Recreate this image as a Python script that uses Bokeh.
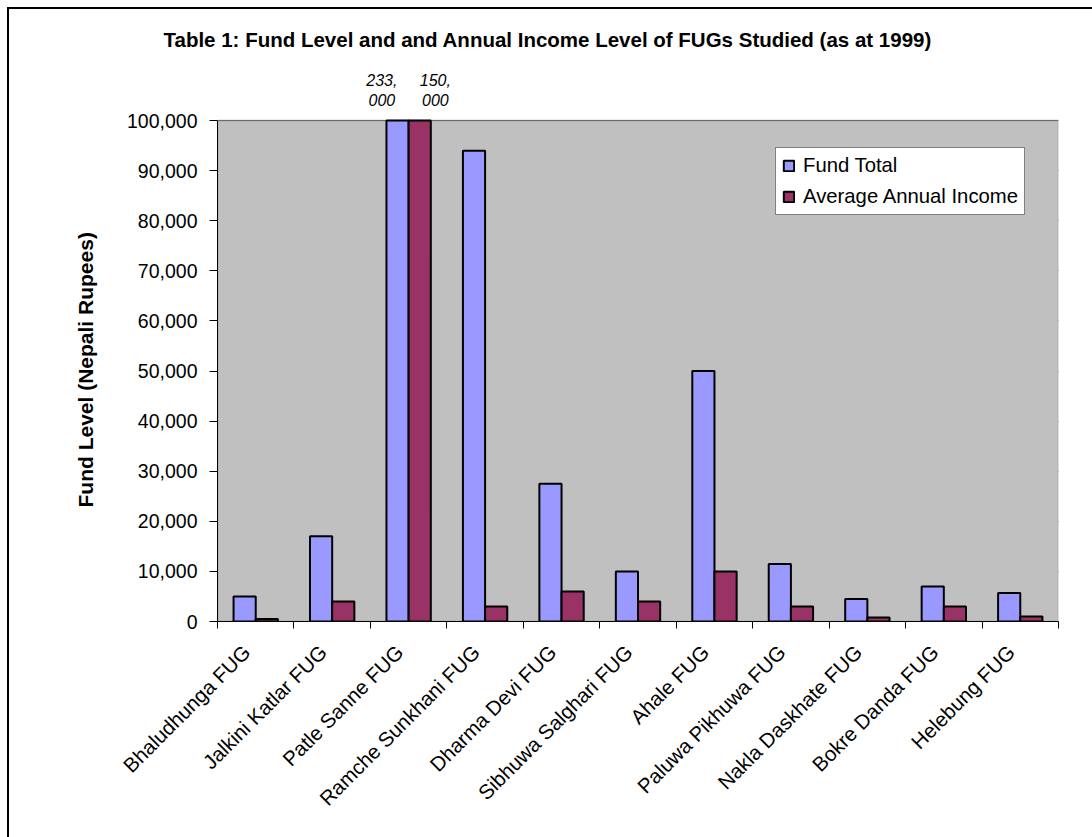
import numpy as np
from bokeh.plotting import figure
from bokeh.models import (Range1d, FixedTicker, NumeralTickFormatter, Legend, LegendItem,
                          BoxAnnotation, ColumnDataSource, Title)
from bokeh.core.properties import value
from bokeh.embed import file_html
from bokeh.resources import INLINE
from math import pi

categories = ["Bhaludhunga FUG", "Jalkini Katlar FUG", "Patle Sanne FUG", "Ramche Sunkhani FUG",
              "Dharma Devi FUG", "Sibhuwa Salghari FUG", "Ahale FUG", "Paluwa Pikhuwa FUG",
              "Nakla Daskhate FUG", "Bokre Danda FUG", "Helebung FUG"]
fund_total = [5000, 17000, 233000, 94000, 27500, 10000, 50000, 11500, 4500, 7000, 5700]
avg_income = [500, 4000, 150000, 3000, 6000, 4000, 10000, 3000, 800, 3000, 1000]
y_ticks = list(range(0, 100001, 10000))
axis_max = 100000
# off-scale bars carry their values as two-line labels above the plot
offscale_labels = [("233,", "000"), ("150,", "000")]

FONT = "Liberation Sans"
idx = np.arange(len(categories))
centers = idx + 0.5
bw = 0.29

# chart area deliberately extends past the window's right and bottom edges
p = figure(width=1100, height=845, output_backend="svg", toolbar_location=None,
           x_range=Range1d(0, len(categories)), y_range=Range1d(0, 112000),
           min_border_left=208, min_border_right=51, min_border_top=51, min_border_bottom=233)
p.margin = (9, 0, 0, 9)
p.styles = {"box-shadow": "-2px -2px 0px 0px black"}
p.background_fill_color = "white"
p.border_fill_color = "white"
p.outline_line_color = None

# gray plot area up to the axis maximum
p.add_layout(BoxAnnotation(bottom=0, top=axis_max, fill_color="#C0C0C0", fill_alpha=1,
                           line_color="#808080", line_width=2, level="underlay"))

fund_draw = np.minimum(fund_total, axis_max)
inc_draw = np.minimum(avg_income, axis_max)
src = ColumnDataSource(dict(xf=centers - bw / 2, xi=centers + bw / 2,
                            fund=fund_draw, inc=inc_draw))
r1 = p.vbar(x="xf", top="fund", width=bw, source=src, fill_color="#9999FF",
            line_color="black", line_width=2)
r2 = p.vbar(x="xi", top="inc", width=bw, source=src, fill_color="#993366",
            line_color="black", line_width=2)

# axes
label_pos = centers - 0.12
xa = p.xaxis[0]
xa.ticker = FixedTicker(ticks=list(label_pos), minor_ticks=list(range(len(categories) + 1)))
xa.major_label_overrides = {float(c): n for c, n in zip(label_pos, categories)}
xa.major_tick_out = 0
xa.major_tick_in = 0
xa.minor_tick_out = 7
xa.minor_tick_in = 0
xa.minor_tick_line_color = "black"
xa.major_label_orientation = pi / 4
xa.major_label_text_font = FONT
xa.major_label_text_font_size = "20.5px"
xa.major_label_text_color = "black"
xa.major_label_standoff = 20
xa.axis_line_color = "black"
xa.axis_line_width = 1

ya = p.yaxis[0]
ya.ticker = FixedTicker(ticks=y_ticks)
ya.formatter = NumeralTickFormatter(format="0,0")
ya.bounds = (0, axis_max)
ya.major_tick_out = 8
ya.major_tick_in = 0
ya.minor_tick_out = 0
ya.minor_tick_in = 0
ya.major_tick_line_color = "black"
ya.major_label_text_font = FONT
ya.major_label_text_font_size = "19.5px"
ya.major_label_text_color = "black"
ya.major_label_standoff = 12
ya.axis_line_color = "black"

# y-axis title, positioned along the gray plot area
ytitle = Title(text="Fund Level (Nepali Rupees)", text_font=FONT, text_font_size="21px",
               text_font_style="bold", text_color="black", align="left", offset=114,
               standoff=55)
p.add_layout(ytitle, "left")

p.xgrid.grid_line_color = None
p.ygrid.grid_line_color = "black"
p.ygrid.grid_line_width = 1
p.ygrid.ticker = FixedTicker(ticks=y_ticks)

# title
p.title.text = "Table 1: Fund Level and and Annual Income Level of FUGs Studied (as at 1999)"
p.title.text_font = FONT
p.title.text_font_size = "20.5px"
p.title.text_font_style = "bold"
p.title.text_color = "black"
p.title.align = "left"
p.title.offset = -54
p.title.standoff = 20

# legend
legend = Legend(items=[LegendItem(label="Fund Total", renderers=[r1]),
                       LegendItem(label="Average Annual Income", renderers=[r2])],
                location=(558, 406), orientation="vertical")
legend.label_text_font = FONT
legend.label_text_font_size = "20.3px"
legend.label_text_color = "black"
legend.glyph_width = 13
legend.glyph_height = 13
legend.label_standoff = 8
legend.label_height = 22
legend.spacing = 8
legend.padding = 6
legend.margin = 0
legend.border_line_color = "black"
legend.border_line_width = 1
legend.background_fill_color = "white"
legend.background_fill_alpha = 1
p.add_layout(legend, "center")

# value labels of the off-scale bars (category "Patle Sanne FUG")
k = categories.index("Patle Sanne FUG")
lx = [centers[k] - 0.35, centers[k] + 0.35]
for line, off in ((0, -41), (1, -21)):
    p.text(x=lx, y=[axis_max, axis_max], text=[offscale_labels[0][line], offscale_labels[1][line]],
           text_font=value(FONT), text_font_size="16px", text_font_style="italic",
           text_align="center", text_baseline="middle", text_color="black", y_offset=off)

open("out.html", "w").write(file_html(p, INLINE))
